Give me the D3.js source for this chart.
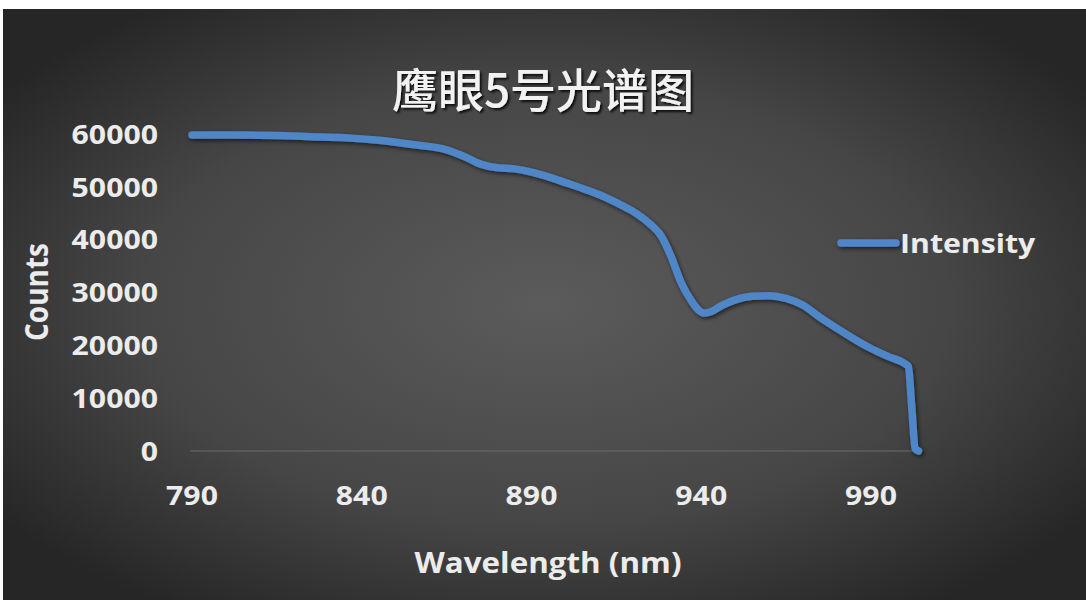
<!DOCTYPE html>
<html>
<head>
<meta charset="utf-8">
<script src="https://cdn.jsdelivr.net/npm/d3@7"></script>
<style>
html,body{margin:0;padding:0;background:#fff;}
svg{display:block;}
</style>
</head>
<body>
<svg id="chart" width="1086" height="600"></svg>
<script>
// ---- data ----
const title = "鹰眼5号光谱图";
const seriesName = "Intensity";
const xTitle = "Wavelength (nm)";
const yTitle = "Counts";
const wavelength = [790,805,815,825,835,845,855,865,870,875,880,885,890,895,900,905,910,915,920,925,928,931,934,937,939,941,943,946,950,955,960,965,970,975,980,985,990,995,1000,1001,1002,1003,1004];
const counts =     [59800,59800,59700,59500,59300,58800,58000,57000,55800,54300,53600,53400,52800,51900,50800,49700,48500,47000,45300,42900,40900,37000,32000,28500,26800,26100,26400,27500,28600,29300,29400,28900,27600,25300,23200,21200,19400,17900,16500,16000,8300,500,0];
const xTicks = [790,840,890,940,990];
const yTicks = [0,10000,20000,30000,40000,50000,60000];

const W = 1086, H = 600;
const svg = d3.select("#chart");
const defs = svg.append("defs");
const rg = defs.append("radialGradient").attr("id","bg")
  .attr("cx","50%").attr("cy","50%").attr("r","62%");
rg.append("stop").attr("offset","0%").attr("stop-color","#5b5b5b");
rg.append("stop").attr("offset","60%").attr("stop-color","#464646");
rg.append("stop").attr("offset","100%").attr("stop-color","#262626");
const sh = defs.append("filter").attr("id","shadow").attr("filterUnits","userSpaceOnUse")
  .attr("x",0).attr("y",0).attr("width",W).attr("height",H);
sh.append("feDropShadow").attr("dx",1.5).attr("dy",2).attr("stdDeviation",2).attr("flood-color","#000").attr("flood-opacity",0.6);
const tsh = defs.append("filter").attr("id","tshadow");
tsh.append("feDropShadow").attr("dx",2).attr("dy",2).attr("stdDeviation",1.2).attr("flood-color","#000").attr("flood-opacity",0.8);

svg.append("rect").attr("x",3).attr("y",9).attr("width",W-3).attr("height",H-9).attr("fill","url(#bg)");

const x = d3.scaleLinear().domain([790,990]).range([192,871]);
const y = d3.scaleLinear().domain([0,60000]).range([451,134]);

const font = "'Open Sans', 'Noto Sans', sans-serif";
const txt = "#ececec";
const sx = 1.12;

// baseline
svg.append("line").attr("x1",x(789.5)).attr("x2",x(1005)).attr("y1",y(0)).attr("y2",y(0))
  .attr("stroke","#6c6c6c").attr("stroke-width",1.2);

// y tick labels
svg.append("g").selectAll("text").data(yTicks).join("text")
  .attr("transform",d=>`translate(158,${y(d)}) scale(${sx},1)`)
  .attr("text-anchor","end").attr("dy","0.36em")
  .attr("font-family",font).attr("font-weight",700).attr("font-size",27)
  .attr("fill",txt).text(d=>d);

// x tick labels
svg.append("g").selectAll("text").data(xTicks).join("text")
  .attr("transform",d=>`translate(${x(d)},495) scale(${sx},1)`)
  .attr("text-anchor","middle").attr("dy","0.36em")
  .attr("font-family",font).attr("font-weight",700).attr("font-size",27)
  .attr("fill",txt).text(d=>d);

// axis titles
svg.append("text").attr("transform",`translate(548,563) scale(${sx},1)`)
  .attr("text-anchor","middle").attr("dy","0.36em")
  .attr("font-family",font).attr("font-weight",700).attr("font-size",28)
  .attr("fill",txt).text(xTitle);
svg.append("text").attr("transform",`translate(37,292) rotate(-90) scale(1,${sx})`)
  .attr("text-anchor","middle").attr("dy","0.36em")
  .attr("font-family",font).attr("font-weight",700).attr("font-size",28)
  .attr("fill",txt).text(yTitle);

// title
svg.append("text").attr("transform",`translate(543,90)`)
  .attr("text-anchor","middle").attr("dy","0.36em")
  .attr("font-family","'Noto Sans CJK SC', sans-serif").attr("font-weight",500).attr("font-size",46)
  .attr("fill","#f2f2f2").attr("filter","url(#tshadow)").text(title);

// line
const data = wavelength.map((w,i)=>({w, c:counts[i]}));
const line = d3.line().x(d=>x(d.w)).y(d=>y(d.c)).curve(d3.curveMonotoneX);
svg.append("path").datum(data).attr("d",line)
  .attr("fill","none").attr("stroke","#4f86c8").attr("stroke-width",7.5)
  .attr("stroke-linejoin","round").attr("stroke-linecap","round")
  .attr("filter","url(#shadow)");

// legend
const lg = svg.append("g");
lg.append("line").attr("x1",841).attr("x2",896).attr("y1",243).attr("y2",243)
  .attr("stroke","#4f86c8").attr("stroke-width",7.5).attr("stroke-linecap","round").attr("filter","url(#shadow)");
lg.append("text").attr("transform",`translate(900,243) scale(${sx},1)`)
  .attr("dy","0.36em")
  .attr("font-family",font).attr("font-weight",700).attr("font-size",27)
  .attr("fill",txt).text(seriesName);
</script>
</body>
</html>
